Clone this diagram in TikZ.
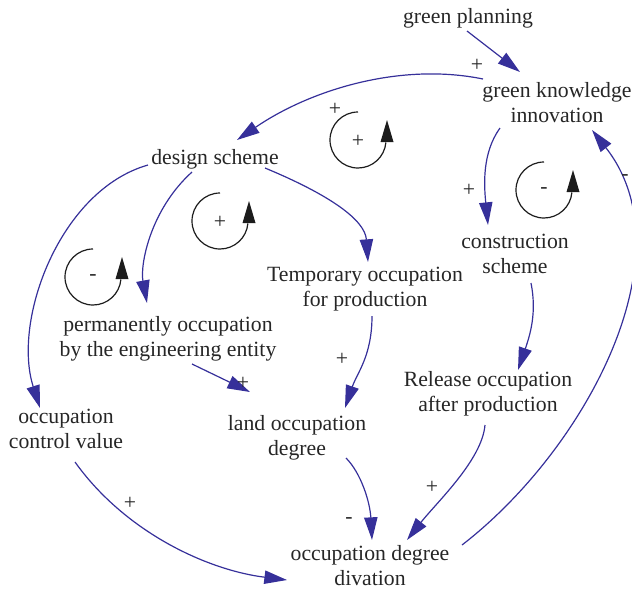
\documentclass[tikz,border=0pt]{standalone}
\usepackage{fontspec}
\setmainfont{Liberation Serif}
\usetikzlibrary{arrows.meta}
\definecolor{linkblue}{RGB}{54,48,154}
\definecolor{loopink}{RGB}{28,28,28}
\begin{document}
\begin{tikzpicture}[x=0.75pt,y=-0.75pt,
  var/.style={inner sep=0pt, align=center, text=black!85,
    font=\fontsize{16.3}{18.75}\selectfont},
  sign/.style={inner sep=0pt, text=black!85, font=\fontsize{16.3}{18.75}\selectfont},
  link/.style={color=linkblue, line width=0.9pt,
    -{Triangle[length=17pt,width=10pt]}},
  pics/fbloop/.style={code={
    \draw[loopink, line width=0.9pt] (0,-28) arc[start angle=90, end angle=355, radius=21pt];
    \fill[loopink] (22.5,2) -- (35.5,2) -- (29,-20) -- cycle;
    \node[sign] at (0,1) {#1};
  }}
]
\useasboundingbox (0,0) rectangle (632,590);

% variables
\node[var] (gp)  at (468,18)  {green planning};
\node[var] (gki) at (557,103) {green knowledge\\innovation};
\node[var] (ds)  at (215,159) {design scheme};
\node[var] (cs)  at (515,254) {construction\\scheme};
\node[var] (tp)  at (365,289) {Temporary occupation\\for production};
\node[var] (pe)  at (168,339) {permanently occupation\\by the engineering entity};
\node[var] (ro)  at (488,394) {Release occupation\\after production};
\node[var] (ocv) at (66,429)  {occupation\\control value};
\node[var] (lod) at (297,438) {land occupation\\degree};
\node[var] (odd) at (370,566) {occupation degree\\divation};

% causal links
\draw[link] ([shift={(-1,13)}]gp.center) -- ([shift={(-37,-31)}]gki.center);
\draw[link] ([shift={(-74,-24)}]gki.center) .. controls +(-83,-17) and +(73,-50) .. ([shift={(22,-19)}]ds.center);
\draw[link] ([shift={(-57,25)}]gki.center) .. controls +(-18,25) and +(-4,-40) .. ([shift={(-27,-29)}]cs.center);
\draw[link] ([shift={(16,29)}]cs.center) .. controls +(6,30) and +(12,-35) .. ([shift={(30,-24)}]ro.center);
\draw[link] ([shift={(-3,31)}]ro.center) .. controls +(-3,35) and +(30,-38) .. ([shift={(37,-26)}]odd.center);
\draw[link] ([shift={(92,-21)}]odd.center) .. controls +(123,-95) and +(98,125) .. ([shift={(35,27)}]gki.center);
\draw[link] ([shift={(-23,13)}]ds.center) .. controls +(-42,38) and +(-7,-38) .. ([shift={(-21,-36)}]pe.center);
\draw[link] ([shift={(-67,6)}]ds.center) .. controls +(-88,25) and +(-28,-88) .. ([shift={(-26,-21)}]ocv.center);
\draw[link] ([shift={(50,9)}]ds.center) .. controls +(65,27) and +(-3,-42) .. ([shift={(3,-27)}]tp.center);
\draw[link] ([shift={(7,27)}]tp.center) .. controls +(0,40) and +(12,-35) .. ([shift={(48,-30)}]lod.center);
\draw[link] ([shift={(24,25)}]pe.center) -- ([shift={(-47,-46)}]lod.center);
\draw[link] ([shift={(49,20)}]lod.center) .. controls +(15,15) and +(-2,-38) .. ([shift={(2,-26)}]odd.center);
\draw[link] ([shift={(9,33)}]ocv.center) .. controls +(50,70) and +(-80,-10) .. ([shift={(-83,14)}]odd.center);

% link polarities
\node[sign] (s1) at (477,65)  {+};
\node[sign] (s2) at (335,109) {+};
\node[sign] (s3) at (469,190) {+};
\node[sign] (s4) at (432,487) {+};
\node[sign] (s5) at (625,178) {-};
\node[sign] (s6) at (342,359) {+};
\node[sign] (s7) at (243,383) {+};
\node[sign] (s8) at (349,521) {-};
\node[sign] (s9) at (130,503) {+};

% feedback loop markers
\pic at (358,140) {fbloop=+};
\pic at (544,190) {fbloop=-};
\pic at (93,277)  {fbloop=-};
\pic at (220,221) {fbloop=+};
\end{tikzpicture}
\end{document}
